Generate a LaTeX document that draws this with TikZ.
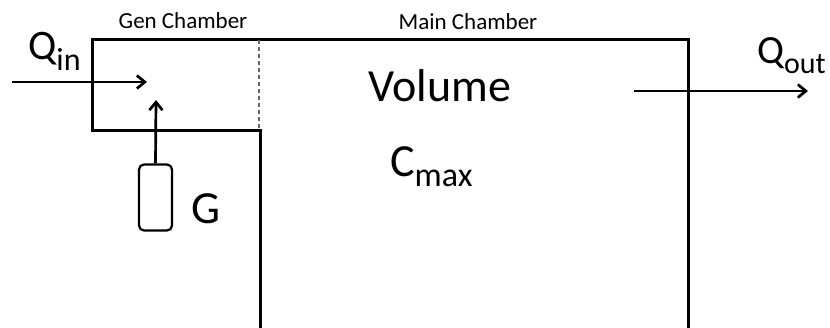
\documentclass[tikz,border=0pt]{standalone}
\usepackage{fontspec}
\setmainfont{Carlito}
\usetikzlibrary{arrows.meta}

\begin{document}
\begin{tikzpicture}[x=1pt,y=-1pt,
    wall/.style={line width=3pt},
    flow/.style={line width=2.7pt,-{Straight Barb[length=8pt,width=13pt]}},
    biglabel/.style={font=\fontsize{46}{46}\selectfont,inner sep=0pt,anchor=base west},
    smalllabel/.style={font=\fontsize{23}{23}\selectfont,inner sep=0pt,anchor=base}]
    \useasboundingbox (0,0) rectangle (830,328);

    % Chamber outline (gen chamber on the left, main chamber on the right)
    \draw[wall] (260,328) -- (260,131) -- (92,131) -- (92,40) -- (688,40) -- (688,328);
    % Divider between the two chambers
    \draw[black!60, line width=1.3pt, dash pattern=on 4pt off 3pt] (259,40) -- (259,131);

    % Chamber names
    \node[smalllabel] (genname) at (183,29) {Gen Chamber};
    \node[smalllabel] (mainname) at (468,30) {Main Chamber};

    % Inside the main chamber
    \node[biglabel] (volume) at (368,102) {Volume};
    \node[biglabel] (cmax) at (390,177) {C\raisebox{-10pt}{\fontsize{34}{34}\selectfont max}};

    % Generator feeding the gen chamber
    \node[draw, line width=2.2pt, rounded corners=5pt, minimum width=33pt,
          minimum height=66pt, inner sep=0pt] (gen) at (155.5,197.5) {};
    \node[biglabel] (genlabel) at (191,224) {G};
    \coordinate (genout) at (156,100);
    \draw[flow] (gen.north) -- (genout);

    % Flow in
    \coordinate (inlet) at (12,82);
    \coordinate (inletend) at (147,82);
    \draw[flow] (inlet) -- (inletend);
    \node[biglabel, font=\fontsize{42}{42}\selectfont] (qin) at (28,60)
        {Q\raisebox{-11pt}{\fontsize{32}{32}\selectfont in}};

    % Flow out
    \coordinate (outlet) at (634,91);
    \coordinate (outletend) at (808,91);
    \draw[flow] (outlet) -- (outletend);
    \node[biglabel, font=\fontsize{40}{40}\selectfont] (qout) at (757,64)
        {Q\raisebox{-10pt}{\fontsize{30}{30}\selectfont out}};
\end{tikzpicture}
\end{document}
